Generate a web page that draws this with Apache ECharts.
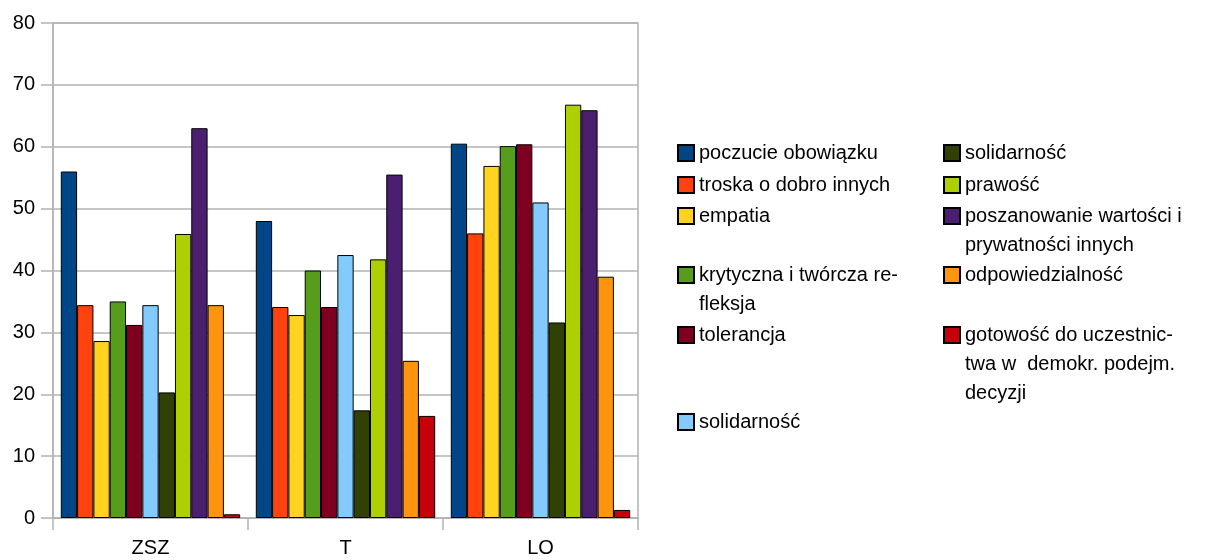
<!DOCTYPE html>
<html>
<head>
<meta charset="utf-8">
<script src="https://cdn.jsdelivr.net/npm/echarts@6/dist/echarts.min.js"></script>
<style>
html,body{margin:0;padding:0;background:#fff;}
#chart{width:1213px;height:560px;}
</style>
</head>
<body>
<div id="chart"></div>
<script>
// ---- data ----
const categories = ['ZSZ', 'T', 'LO'];
const yTicks = [0, 10, 20, 30, 40, 50, 60, 70, 80];

const poczucieObowiazku = [56.0, 48.0, 60.5];
const troskaODobroInnych = [34.4, 34.1, 46.0];
const empatia = [28.6, 32.8, 56.9];
const krytycznaRefleksja = [35.0, 40.0, 60.1];
const tolerancja = [31.2, 34.1, 60.4];
const solidarnoscJasna = [34.4, 42.5, 51.0];
const solidarnoscCiemna = [20.3, 17.4, 31.6];
const prawosc = [45.9, 41.8, 66.8];
const poszanowanie = [63.0, 55.5, 65.9];
const odpowiedzialnosc = [34.4, 25.4, 39.0];
const gotowosc = [0.6, 16.5, 1.3];

// series names (unique keys) and the legend text shown for each
const seriesNames = [
  'poczucie obowiązku',
  'troska o dobro innych',
  'empatia',
  'krytyczna i twórcza refleksja',
  'tolerancja',
  'solidarność',
  'solidarność ',
  'prawość',
  'poszanowanie wartości i prywatności innych',
  'odpowiedzialność',
  'gotowość do uczestnictwa w demokr. podejm. decyzji'
];
const legendLabels = [
  'poczucie obowiązku',
  'troska o dobro innych',
  'empatia',
  'krytyczna i twórcza re-\nfleksja',
  'tolerancja',
  'solidarność',
  'solidarność',
  'prawość',
  'poszanowanie wartości i\nprywatności innych',
  'odpowiedzialność',
  'gotowość do uczestnic-\ntwa w  demokr. podejm.\ndecyzji'
];
const seriesValues = [
  poczucieObowiazku, troskaODobroInnych, empatia, krytycznaRefleksja, tolerancja,
  solidarnoscJasna, solidarnoscCiemna, prawosc, poszanowanie, odpowiedzialnosc, gotowosc
];

// ---- styles ----
const colors = ['#004586', '#ff420e', '#ffd320', '#579d1c', '#7e0021', '#83caff',
                '#314004', '#aecf00', '#4b1f6f', '#ff950e', '#c5000b'];
const FONT = '"Liberation Sans", Arial, sans-serif';
const GRAY = '#b3b3b3';
const LINE_H = 29;
// legend item positions: [left, icon centre y]
const legendPos = [
  [677, 153], [677, 185], [677, 216], [677, 275], [677, 335], [677, 422],
  [943, 153], [943, 185], [943, 216], [943, 275], [943, 335]
];

// prefix (n-1) blank lines so that the first text line sits next to the icon
const displayOf = {};
seriesNames.forEach((n, i) => {
  const lines = legendLabels[i].split('\n');
  displayOf[n] = '\n'.repeat(lines.length - 1) + legendLabels[i];
});

const legends = seriesNames.map((name, i) => {
  const nLines = legendLabels[i].split('\n').length;
  return {
    data: [name],
    orient: 'vertical',
    left: legendPos[i][0],
    // bounding box top = icon centre minus the (2n-1) line block's half height
    top: legendPos[i][1] - (2 * nLines - 1) * LINE_H / 2,
    padding: 0,
    itemGap: 0,
    itemWidth: 16,
    itemHeight: 16,
    icon: 'rect',
    selectedMode: false,
    formatter: n => displayOf[n],
    textStyle: {
      fontFamily: FONT,
      fontSize: 20,
      lineHeight: LINE_H,
      color: '#000'
    }
  };
});

const chart = echarts.init(document.getElementById('chart'), null, {renderer: 'canvas'});
chart.setOption({
  animation: false,
  backgroundColor: '#fff',
  color: colors,
  textStyle: {fontFamily: FONT},
  grid: {
    left: 53, right: 575, top: 23, bottom: 42,
    show: true, borderColor: GRAY, borderWidth: 1.5, backgroundColor: 'transparent'
  },
  legend: legends,
  xAxis: {
    type: 'category',
    data: categories,
    axisLine: {show: true, lineStyle: {color: GRAY, width: 1.5}},
    axisTick: {show: true, interval: 0, length: 12, lineStyle: {color: GRAY, width: 1.5}},
    axisLabel: {color: '#000', fontSize: 20, fontFamily: FONT, margin: 20},
    splitLine: {show: false}
  },
  yAxis: {
    type: 'value',
    min: yTicks[0],
    max: yTicks[yTicks.length - 1],
    interval: 10,
    axisLine: {show: true, lineStyle: {color: GRAY, width: 1.5}},
    axisTick: {show: true, length: 12, lineStyle: {color: GRAY, width: 1.5}},
    axisLabel: {color: '#000', fontSize: 20, fontFamily: FONT, margin: 18},
    splitLine: {show: true, lineStyle: {color: GRAY, width: 1.5}}
  },
  series: seriesNames.map((name, i) => ({
    name: name,
    type: 'bar',
    data: seriesValues[i],
    barGap: '0%',
    barCategoryGap: '8%',
    itemStyle: {color: colors[i], borderColor: '#000', borderWidth: 1},
    emphasis: {disabled: true}
  }))
});
</script>
</body>
</html>
